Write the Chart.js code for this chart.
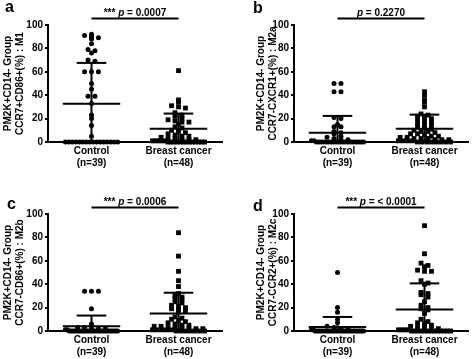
<!DOCTYPE html>
<html>
<head>
<meta charset="utf-8">
<script src="https://cdn.jsdelivr.net/npm/chart.js@4.4.1/dist/chart.umd.min.js"></script>
<style>
  body { margin: 0; background: #fff; }
  #wrap { position: relative; width: 472px; height: 359px; overflow: hidden; }
  .panel { position: absolute; width: 236px; height: 170px; }
</style>
</head>
<body>
<div id="wrap">
  <div class="panel" style="left:0;top:0"><canvas id="chartA"></canvas></div>
  <div class="panel" style="left:236px;top:0"><canvas id="chartB"></canvas></div>
  <div class="panel" style="left:0;top:189px"><canvas id="chartC"></canvas></div>
  <div class="panel" style="left:236px;top:189px"><canvas id="chartD"></canvas></div>
</div>
<script>
const categories = ["Control", "Breast cancer"];
const groupN = ["(n=39)", "(n=48)"];
const yTicks = [0, 20, 40, 60, 80, 100];

// a: M1
const controlM1 = [92, 91, 90, 89, 88, 84, 79, 78, 76, 70, 69, 60, 60, 60, 50, 45, 39, 39, 33, 23, 20, 14, 5,
  0, 0, 0, 0, 0, 0, 0, 0, 0, 0, 0, 0, 0, 0, 0, 0];
const breastM1 = [61, 36, 34, 31, 30, 29, 25, 23, 22, 20, 19, 18, 17, 17, 15, 13, 12, 10, 9, 8, 7, 6, 5, 5,
  4, 3, 3, 2, 2, 2, 1, 1, 1, 1, 1, 0, 0, 0, 0, 0, 0, 0, 0, 0, 0, 0, 0, 0];
const meanM1 = [32.6, 11.4];
const sdM1 = [35.0, 12.9];

// b: M2a
const controlM2a = [50, 50, 43, 43, 21, 20, 15, 13, 13, 9, 8, 7, 5, 4, 3, 2, 2, 1, 1,
  0, 0, 0, 0, 0, 0, 0, 0, 0, 0, 0, 0, 0, 0, 0, 0, 0, 0, 0, 0];
const breastM2a = [43, 40, 36, 34, 30, 24, 23, 22, 21, 20, 19, 18, 17, 16, 15, 14, 13, 12, 11, 10, 9, 9, 8, 7,
  7, 6, 5, 5, 4, 4, 3, 3, 3, 2, 2, 2, 1, 1, 1, 1, 0, 0, 0, 0, 0, 0, 0, 0];
const meanM2a = [8.0, 11.4];
const sdM2a = [14.3, 12.0];

// c: M2b
const controlM2b = [34, 34, 34, 19, 6, 3, 3, 2, 2, 2, 1, 1,
  0, 0, 0, 0, 0, 0, 0, 0, 0, 0, 0, 0, 0, 0, 0, 0, 0, 0, 0, 0, 0, 0, 0, 0, 0, 0, 0];
const breastM2b = [84, 64, 51, 43, 38, 32, 30, 29, 28, 27, 25, 24, 22, 21, 20, 19, 18, 17, 16, 12, 11, 10, 9, 8,
  7, 6, 5, 5, 4, 4, 3, 3, 3, 2, 2, 2, 1, 1, 1, 1, 1, 0, 0, 0, 0, 0, 0, 0];
const meanM2b = [4.0, 14.9];
const sdM2b = [9.2, 17.8];

// d: M2c
const controlM2c = [50, 20, 16, 10, 7, 4, 3, 2, 2, 1, 1,
  0, 0, 0, 0, 0, 0, 0, 0, 0, 0, 0, 0, 0, 0, 0, 0, 0, 0, 0, 0, 0, 0, 0, 0, 0, 0, 0, 0];
const breastM2c = [90, 66, 58, 56, 55, 52, 51, 51, 43, 41, 40, 33, 32, 31, 29, 25, 22, 20, 19, 18, 15, 10, 8, 7,
  6, 5, 4, 3, 3, 2, 2, 1, 1, 1, 1, 0, 0, 0, 0, 0, 0, 0, 0, 0, 0, 0, 0, 0];
const meanM2c = [3.4, 18.3];
const sdM2c = [8.6, 22.4];

const FONT = "'Liberation Sans', Arial, sans-serif";
Chart.defaults.font.family = FONT;
Chart.defaults.font.weight = "bold";
Chart.defaults.color = "#000";

// spread points with similar values side by side, like a dot plot
function spread(values, center) {
  const rows = {};
  values.forEach(v => {
    const k = Math.round(v / 3);
    (rows[k] = rows[k] || []).push(v);
  });
  const pts = [];
  Object.values(rows).forEach(row => {
    const n = row.length;
    const step = n > 1 ? Math.min(0.08, 0.6 / (n - 1)) : 0;
    row.forEach((v, i) => pts.push({ x: center + (i - (n - 1) / 2) * step, y: v }));
  });
  return pts;
}

function lineSet(data) {
  return { type: "scatter", data, showLine: true, borderColor: "#000", borderWidth: 2,
    pointRadius: 0, backgroundColor: "#000", clip: false };
}

function errorSets(mean, sd) {
  const sets = [];
  mean.forEach((m, i) => {
    const c = i + 1, hi = m + sd[i], lo = m - sd[i];
    sets.push(lineSet([{ x: c - 0.33, y: m }, { x: c + 0.33, y: m }]));
    sets.push(lineSet([{ x: c - 0.17, y: hi }, { x: c + 0.17, y: hi }]));
    sets.push(lineSet([{ x: c, y: Math.max(0, lo) }, { x: c, y: hi }]));
    if (lo > 0) sets.push(lineSet([{ x: c - 0.17, y: lo }, { x: c + 0.17, y: lo }]));
  });
  return sets;
}

const sigPlugin = {
  id: "sig",
  afterDraw(chart, args, o) {
    const { ctx } = chart;
    const x = chart.scales.x;
    const x1 = x.getPixelForValue(1), x2 = x.getPixelForValue(2);
    ctx.save();
    ctx.strokeStyle = "#000";
    ctx.lineWidth = 2;
    ctx.beginPath();
    ctx.moveTo(x1, o.lineY);
    ctx.lineTo(x2, o.lineY);
    ctx.stroke();

    const parts = [];
    if (o.stars) parts.push([o.stars + " ", "bold 10px " + FONT]);
    parts.push(["p", "italic bold 10px " + FONT]);
    parts.push([" = " + o.p, "bold 10px " + FONT]);
    let total = 0;
    parts.forEach(p => { ctx.font = p[1]; total += ctx.measureText(p[0]).width; });
    let cx = (x1 + x2) / 2 - total / 2;
    ctx.fillStyle = "#000";
    ctx.textBaseline = "alphabetic";
    parts.forEach(p => {
      ctx.font = p[1];
      ctx.fillText(p[0], cx, o.lineY - 2.5);
      cx += ctx.measureText(p[0]).width;
    });

    ctx.font = "bold 16px " + FONT;
    ctx.fillText(o.letter, o.letterX, o.letterY);
    ctx.restore();
  }
};

const panels = [
  { id: "chartA", letter: "a", control: controlM1, breast: breastM1, mean: meanM1, sd: sdM1,
    title: ["PM2K+CD14- Group", "CCR7+CD86+(%) : M1"], stars: "***", p: "0.0007",
    left: 48, right: 14, titlePad: 1.5, letterX: 5, letterY: 12 },
  { id: "chartB", letter: "b", control: controlM2a, breast: breastM2a, mean: meanM2a, sd: sdM2a,
    title: ["PM2K+CD14- Group", "CCR7-CXCR1+(%) : M2a"], stars: "", p: "0.2270",
    left: 58, right: 0, titlePad: 18.5, letterX: 17, letterY: 13 },
  { id: "chartC", letter: "c", control: controlM2b, breast: breastM2b, mean: meanM2b, sd: sdM2b,
    title: ["PM2K+CD14- Group", "CCR7-CD86+(%) : M2b"], stars: "***", p: "0.0006",
    left: 48, right: 14, titlePad: 1.5, letterX: 7, letterY: 20 },
  { id: "chartD", letter: "d", control: controlM2c, breast: breastM2c, mean: meanM2c, sd: sdM2c,
    title: ["PM2K+CD14- Group", "CCR7-CCR2+(%) : M2c"], stars: "***", p: "< 0.0001",
    left: 58, right: 0, titlePad: 18.5, letterX: 17, letterY: 22 }
];

panels.forEach(pn => {
  const datasets = [
    { data: spread(pn.control, 1), pointStyle: "circle", pointRadius: 2.5,
      backgroundColor: "#000", borderWidth: 0, clip: false },
    { data: spread(pn.breast, 2), pointStyle: "rect", pointRadius: 3.4,
      backgroundColor: "#000", borderWidth: 0, clip: false }
  ].concat(errorSets(pn.mean, pn.sd));

  new Chart(document.getElementById(pn.id), {
    type: "scatter",
    data: { datasets },
    options: {
      responsive: true,
      maintainAspectRatio: false,
      animation: false,
      layout: { padding: { top: 25, left: 0, right: pn.right, bottom: 0 } },
      plugins: {
        legend: { display: false },
        tooltip: { enabled: false },
        sig: { stars: pn.stars, p: pn.p, lineY: 18.5, letter: pn.letter,
          letterX: pn.letterX, letterY: pn.letterY }
      },
      scales: {
        x: {
          type: "linear",
          min: 0.5,
          max: 2.5,
          grid: { display: false, drawTicks: false },
          border: { display: true, color: "#000", width: 2 },
          afterBuildTicks: s => { s.ticks = categories.map((c, i) => ({ value: i + 1 })); },
          afterFit: s => { s.height = 28; },
          ticks: {
            padding: 3,
            font: { size: 10, weight: "bold", lineHeight: 1.2 },
            callback: v => [categories[v - 1], groupN[v - 1]]
          }
        },
        y: {
          min: 0,
          max: 100,
          grid: { display: true, drawOnChartArea: false, drawTicks: true, tickLength: 3,
            color: "#000", lineWidth: 2 },
          border: { display: true, color: "#000", width: 2 },
          afterBuildTicks: s => { s.ticks = yTicks.map(v => ({ value: v })); },
          afterFit: s => { s.width = pn.left; },
          ticks: { padding: 2, font: { size: 10, weight: "bold" } },
          title: {
            display: true,
            text: pn.title,
            padding: { top: pn.titlePad, bottom: 0 },
            font: { size: 10, weight: "bold", lineHeight: 1.25 }
          }
        }
      }
    },
    plugins: [sigPlugin]
  });
});
</script>
</body>
</html>
